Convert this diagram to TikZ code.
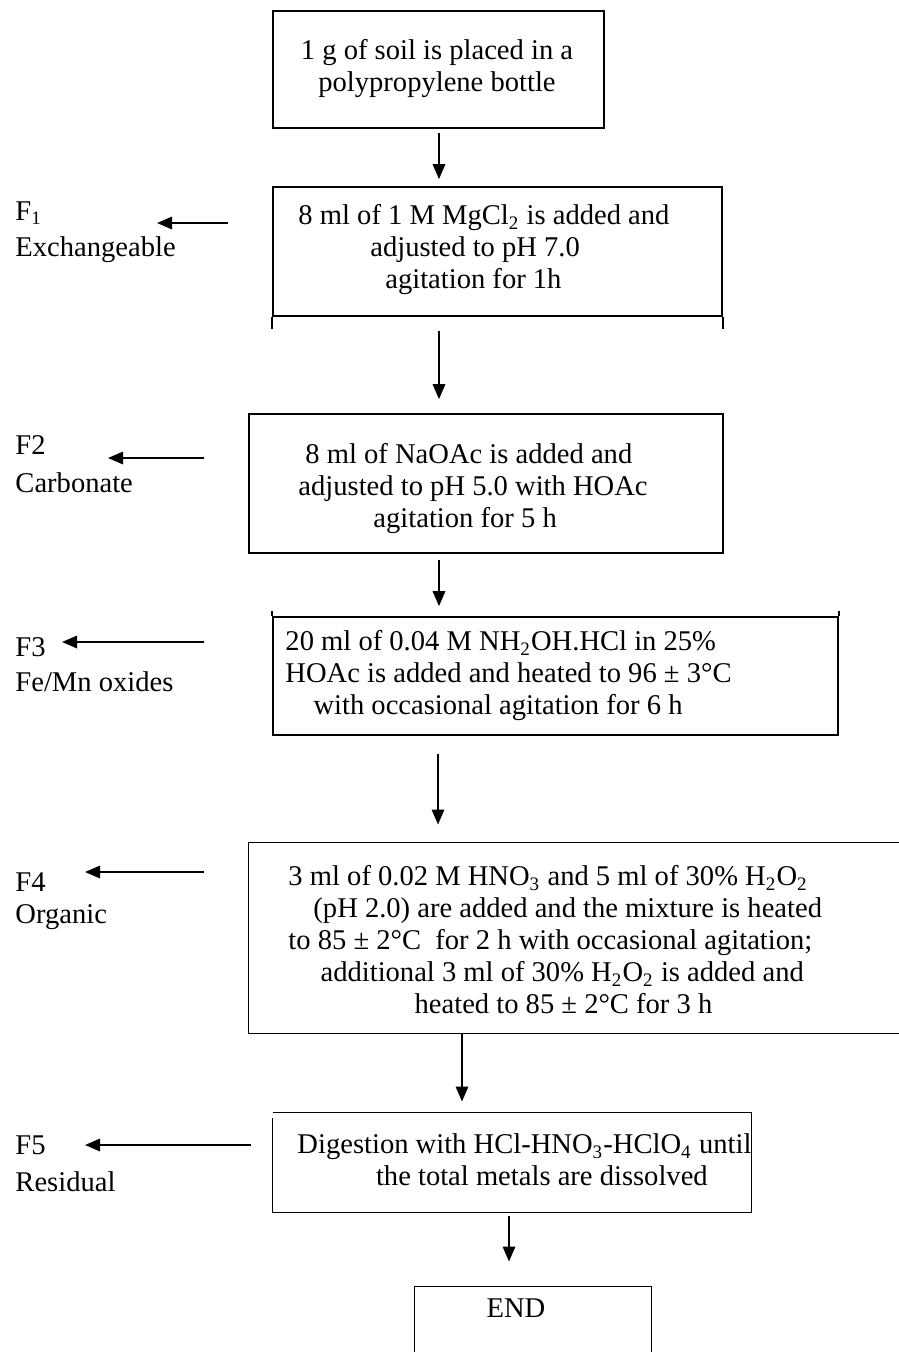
\documentclass[tikz,border=0pt]{standalone}
\usepackage{fontspec}
\setmainfont{Liberation Serif}
\usetikzlibrary{arrows.meta,calc,fit}
\begin{document}
\begin{tikzpicture}[x=0.42pt,y=-0.42pt,
  boxline/.style={line width=0.7pt},
  frame/.style={draw, line width=0.7pt, inner sep=0pt},
  area/.style={inner sep=0pt},
  arr/.style={line width=0.85pt,-{Triangle[length=6.3pt,width=5.2pt]}},
  txt/.style={font=\fontsize{12}{13.44}\selectfont, inner sep=0pt, align=left},
  lab/.style={font=\fontsize{12}{14}\selectfont, inner sep=0pt, anchor=west}]
\useasboundingbox (0,0) rectangle (899,1352);

% ---- boxes ----
\node[frame, fit={(273,11) (604,128)}] (b1) {};
\node[frame, fit={(273,187) (722,316)}] (b2) {};
\node[frame, fit={(249,414) (723,553)}] (b3) {};
\node[frame, fit={(273,617) (838,735)}] (b4) {};
\node[area, fit={(249,843) (899,1033)}] (b5) {};
\node[area, fit={(273,1113) (751,1212)}] (b6) {};
\node[area, fit={(415,1287) (651,1352)}] (b7) {};

% box extras / open boxes
\draw[boxline] (b2.south west) -- ++(0,12);
\draw[boxline] (b2.south east) -- ++(0,12);
\draw[boxline] (b4.north west) -- ++(0,-5);
\draw[boxline] (b4.north east) -- ++(0,-5);
\draw[boxline] ($(b5.north east)+(10,0)$) -- (b5.north west) -- (b5.south west) -- ($(b5.south east)+(10,0)$);
\draw[boxline] (b6.north west) -- (b6.north east) -- (b6.south east) -- (b6.south west) -- ($(b6.north west)+(0,5)$);
\draw[boxline] ($(b7.south west)+(0,10)$) -- (b7.north west) -- (b7.north east) -- ($(b7.south east)+(0,10)$);

% ---- texts in boxes ----
\node[txt, align=center] (t1) at (437,69) {1 g of soil is placed in a\\polypropylene bottle};
\node[txt, anchor=west] (t2) at (298,250) {8 ml of 1 M MgCl\textsubscript{2} is added and\\\hspace*{30.2pt}adjusted to pH 7.0\\\hspace*{36.5pt}agitation for 1h};
\node[txt, anchor=west] (t3) at (298,489) {\hspace*{2.9pt}8 ml of NaOAc is added and\\adjusted to pH 5.0 with HOAc\\\hspace*{31.5pt}agitation for 5 h};
\node[txt, anchor=west] (t4) at (285,676) {20 ml of 0.04 M NH\textsubscript{2}OH.HCl in 25\%\\HOAc is added and heated to 96 ± 3°C\\\hspace*{11.8pt}with occasional agitation for 6 h};
\node[txt, anchor=west] (t5) at (288,940) {3 ml of 0.02 M HNO\textsubscript{3} and 5 ml of 30\% H\textsubscript{2}O\textsubscript{2}\\\hspace*{10.5pt}(pH 2.0) are added and the mixture is heated\\to 85 ± 2°C\ \ for 2 h with occasional agitation;\\\hspace*{13.5pt}additional 3 ml of 30\% H\textsubscript{2}O\textsubscript{2} is added and\\\hspace*{53pt}heated to 85 ± 2°C for 3 h};
\node[txt, anchor=west] (t6) at (297,1160) {Digestion with HCl-HNO\textsubscript{3}-HClO\textsubscript{4} until\\\hspace*{33pt}the total metals are dissolved};
\node[txt] (t7) at (516,1308) {END};

% ---- left labels ----
\node[lab] (f1) at (15,213) {F\textsubscript{1}};
\node[lab] (f1n) at (15,250) {Exchangeable};
\node[lab] (f2) at (15,445) {F2};
\node[lab] (f2n) at (15,483) {Carbonate};
\node[lab] (f3) at (15,647) {F3};
\node[lab] (f3n) at (15,682) {Fe/Mn oxides};
\node[lab] (f4) at (15,882) {F4};
\node[lab] (f4n) at (15,917) {Organic};
\node[lab] (f5) at (15,1145) {F5};
\node[lab] (f5n) at (15,1182) {Residual};

% ---- vertical arrows ----
\coordinate (sp) at (439,0);
\draw[arr] ($(b1.south -| sp)+(0,4)$) -- ($(b2.north -| sp)+(0,-7)$);
\draw[arr] ($(b2.south -| sp)+(0,14)$) -- ($(b3.north -| sp)+(0,-14)$);
\draw[arr] ($(b3.south -| sp)+(0,6)$) -- ($(b4.north -| sp)+(0,-10)$);
\draw[arr] ($(b4.south -| sp)+(-1,18)$) -- ($(b5.north -| sp)+(-1,-18)$);
\coordinate (sp5) at (462,0);
\draw[arr] (b5.south -| sp5) -- ($(b6.north -| sp5)+(0,-11)$);
\coordinate (sp6) at (509,0);
\draw[arr] ($(b6.south -| sp6)+(0,4)$) -- ($(b7.north -| sp6)+(0,-25)$);

% ---- left arrows ----
\coordinate (a1s) at (228,223); \coordinate (a1e) at (157,223);
\coordinate (a2s) at (204,458); \coordinate (a2e) at (108,458);
\coordinate (a3s) at (204,642); \coordinate (a3e) at (62,642);
\coordinate (a4s) at (204,872); \coordinate (a4e) at (85,872);
\coordinate (a5s) at (251,1145); \coordinate (a5e) at (85,1145);
\draw[arr] (a1s) -- (a1e);
\draw[arr] (a2s) -- (a2e);
\draw[arr] (a3s) -- (a3e);
\draw[arr] (a4s) -- (a4e);
\draw[arr] (a5s) -- (a5e);
\end{tikzpicture}
\end{document}
